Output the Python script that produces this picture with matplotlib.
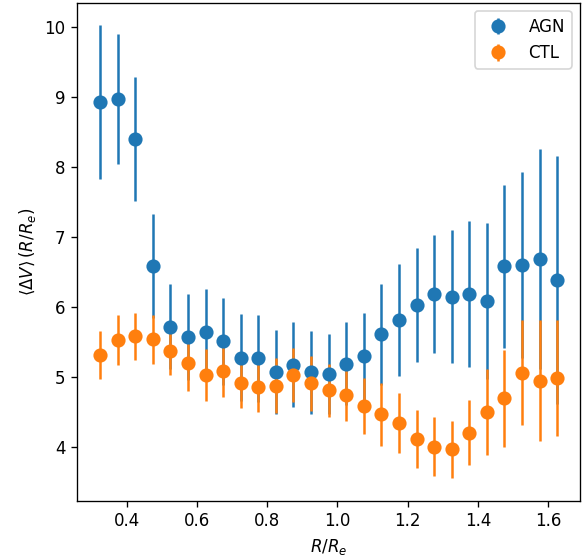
import matplotlib
matplotlib.use("Agg")
import matplotlib.pyplot as plt
import numpy as np

r = [0.325, 0.375, 0.425, 0.475, 0.525, 0.575, 0.625, 0.675, 0.725,
     0.775, 0.825, 0.875, 0.925, 0.975, 1.025, 1.075, 1.125, 1.175,
     1.225, 1.275, 1.325, 1.375, 1.425, 1.475, 1.525, 1.575, 1.625]

agn = [8.92, 8.97, 8.40, 6.59, 5.72, 5.57, 5.64, 5.51, 5.28,
       5.27, 5.07, 5.18, 5.07, 5.05, 5.19, 5.30, 5.61, 5.81,
       6.03, 6.19, 6.15, 6.19, 6.09, 6.58, 6.60, 6.69, 6.39]
agn_err = [1.10, 0.93, 0.88, 0.74, 0.61, 0.61, 0.62, 0.62, 0.62,
           0.62, 0.60, 0.61, 0.59, 0.57, 0.59, 0.62, 0.72, 0.80,
           0.81, 0.84, 0.95, 1.04, 1.11, 1.16, 1.32, 1.57, 1.77]

ctl = [5.32, 5.53, 5.58, 5.54, 5.37, 5.20, 5.03, 5.09, 4.92,
       4.86, 4.88, 5.03, 4.91, 4.81, 4.75, 4.59, 4.47, 4.35,
       4.12, 4.01, 3.97, 4.21, 4.50, 4.70, 5.06, 4.95, 4.99]
ctl_err = [0.34, 0.35, 0.33, 0.35, 0.34, 0.40, 0.37, 0.37, 0.36,
           0.36, 0.39, 0.38, 0.39, 0.38, 0.38, 0.40, 0.45, 0.43,
           0.41, 0.42, 0.41, 0.47, 0.61, 0.69, 0.75, 0.86, 0.83]

fig = plt.figure(figsize=(582 / 120, 558 / 120), dpi=120)
ax = fig.add_axes([0.1328, 0.1027, 0.8637, 0.8925])

ax.errorbar(r, agn, yerr=agn_err, fmt='o', ms=7.5, label='AGN')
ax.errorbar(r, ctl, yerr=ctl_err, fmt='o', ms=7.5, label='CTL')

ax.set_xlabel(r'$R/R_e$')
ax.set_ylabel(r'$\langle \Delta V\rangle\,(R/R_e)$')
ax.legend(loc='upper right')

fig.savefig('out.png', dpi=120)
